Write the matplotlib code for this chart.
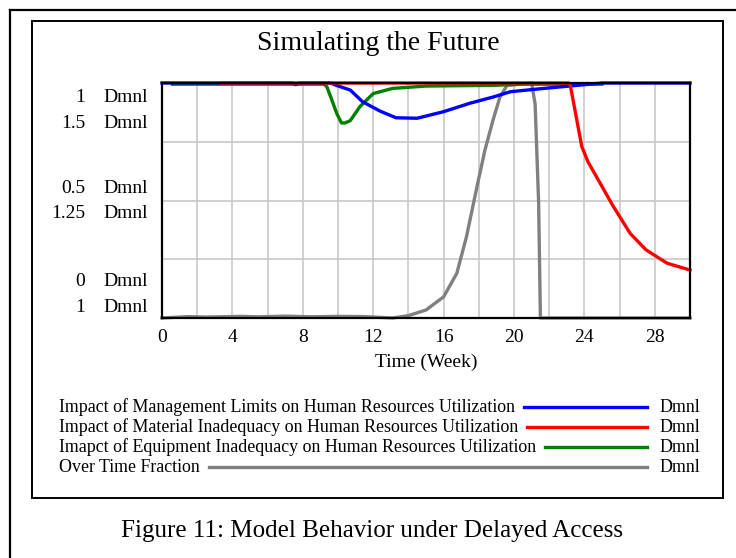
import numpy as np
import matplotlib
matplotlib.use('Agg')
import matplotlib.pyplot as plt
from matplotlib.lines import Line2D
from matplotlib.patches import Rectangle

# data (y normalised to the 0..1 plot height)
t_mgmt = [0, 7.4, 7.6, 7.8, 9.6, 9.9, 10.7, 11.4, 12.4, 13.3, 14.5, 16.0, 17.5, 18.8, 19.8, 21.7, 23.6, 25.0, 30]
v_mgmt = [1, 1, 0.993, 1, 1, 0.99, 0.97, 0.92, 0.88, 0.852, 0.85, 0.878, 0.914, 0.94, 0.963, 0.977, 0.99, 1, 1]

t_mat = [3.4, 23.1, 23.2, 23.5, 23.85, 24.2, 24.9, 25.6, 26.6, 27.5, 28.7, 30]
v_mat = [1, 1, 0.99, 0.87, 0.73, 0.665, 0.573, 0.48, 0.36, 0.29, 0.233, 0.204]

t_equip = [0.6, 9.2, 9.36, 9.64, 9.93, 10.2, 10.4, 10.7, 11.25, 12.0, 13.1, 15.0, 18.8, 20.5, 25.0]
v_equip = [0.995, 0.995, 0.985, 0.93, 0.87, 0.83, 0.83, 0.84, 0.9, 0.955, 0.977, 0.987, 0.99, 0.995, 0.995]

t_ot = [0, 1.5, 2.5, 4.5, 5.5, 7.0, 8.5, 10.0, 11.5, 13.1, 14.0, 15.0, 16.0, 16.75, 17.3, 17.9, 18.35, 18.8, 19.2, 19.6, 21.0, 21.2, 21.4, 21.5, 30]
v_ot = [0, 0.006, 0.004, 0.007, 0.005, 0.008, 0.005, 0.007, 0.006, 0, 0.01, 0.034, 0.09, 0.19, 0.346, 0.56, 0.715, 0.84, 0.94, 0.99, 1, 0.91, 0.49, 0, 0]

x_ticks = [0, 4, 8, 12, 16, 20, 24, 28]
scale_a = ['1', '0.5', '0']
scale_b = ['1.5', '1.25', '1']
legend_names = ['Impact of Management Limits on Human Resources Utilization',
                'Impact of Material Inadequacy on Human Resources Utilization',
                'Imapct of Equipment Inadequacy on Human Resources Utilization',
                'Over Time Fraction']
colors = ['#0000ff', '#ff0000', '#008000', '#808080']

W, H = 736, 558
fig = plt.figure(figsize=(W / 100, H / 100), dpi=100)
plt.rcParams['font.family'] = 'Liberation Serif'

def fx(px):
    return px / W

def fy(py):
    return 1 - py / H

# frames
fig.add_artist(Line2D([fx(10), fx(10)], [fy(10), 0], color='black', lw=1.6))
fig.add_artist(Line2D([fx(10), 1], [fy(10), fy(10)], color='black', lw=1.6))
fig.add_artist(Rectangle((fx(32), fy(498)), fx(723) - fx(32), fy(21) - fy(498),
                         fill=False, edgecolor='black', lw=1.4))

ax = fig.add_axes([fx(162), fy(318), fx(690) - fx(162), fy(83) - fy(318)])
ax.set_xlim(0, 30)
ax.set_ylim(0, 1)
ax.set_xticks(np.arange(0, 31, 2))
ax.set_yticks([0, 0.25, 0.5, 0.75, 1])
ax.grid(True, color='#c8c8c8', lw=1.2)
ax.tick_params(length=0, labelleft=False, labelbottom=False)
for s in ax.spines.values():
    s.set_linewidth(1.6)
    s.set_color('black')

series = [(t_ot, v_ot, colors[3]), (t_equip, v_equip, colors[2]),
          (t_mgmt, v_mgmt, colors[0]), (t_mat, v_mat, colors[1])]
for t, v, c in series:
    ax.plot(t, v, color=c, lw=2.4, clip_on=False, solid_joinstyle='round')

for xt in x_ticks:
    ax.text(xt, -0.085, str(xt), ha='center', va='center', fontsize=14)
ax.text(15, -0.19, 'Time (Week)', ha='center', va='center', fontsize=14)

# dual y scales as text
ya = [97, 189, 281]
yb = [123, 214, 307]
for lab, py in zip(scale_a, ya):
    fig.text(fx(85), fy(py), lab, ha='right', va='center', fontsize=14)
    fig.text(fx(103), fy(py), 'Dmnl', ha='left', va='center', fontsize=14)
for lab, py in zip(scale_b, yb):
    fig.text(fx(85), fy(py), lab, ha='right', va='center', fontsize=14)
    fig.text(fx(103), fy(py), 'Dmnl', ha='left', va='center', fontsize=14)

fig.text(fx(378), fy(44), 'Simulating the Future', ha='center', va='center', fontsize=20)

# legend
fig.canvas.draw()
r = fig.canvas.get_renderer()
rows = [407, 427, 447, 467]
for name, c, py in zip(legend_names, colors, rows):
    t = fig.text(fx(59), fy(py), name, ha='left', va='center', fontsize=12.9)
    bb = t.get_window_extent(renderer=r)
    x0 = bb.x1 + 9
    fig.add_artist(Line2D([x0 / W, fx(647)], [fy(py), fy(py)], color=c, lw=2.4))
    fig.text(fx(659), fy(py), 'Dmnl', ha='left', va='center', fontsize=12.9)

fig.text(fx(372), fy(531), 'Figure 11: Model Behavior under Delayed Access',
         ha='center', va='center', fontsize=18)

fig.savefig('out.png', dpi=100)
